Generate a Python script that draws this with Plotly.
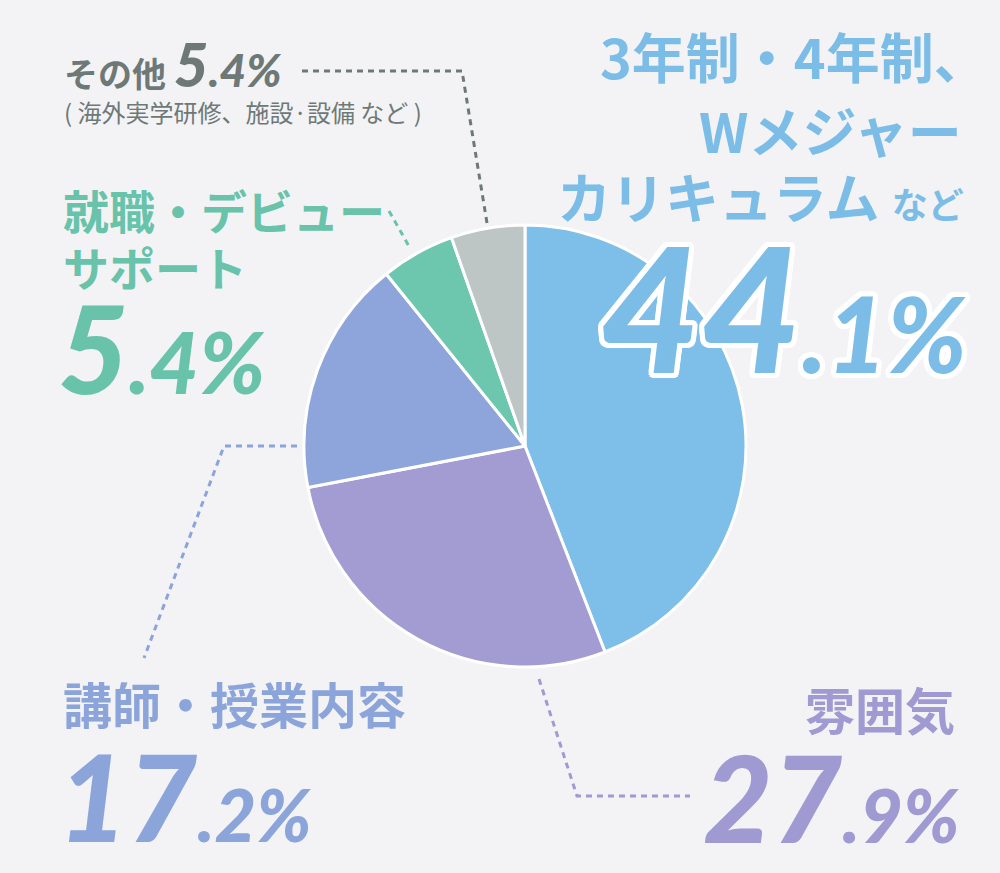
import plotly.graph_objects as go

# ---- data ----
categories = ["3年制・4年制、Wメジャーカリキュラムなど", "雰囲気", "講師・授業内容", "就職・デビューサポート", "その他"]
values = [44.1, 27.9, 17.2, 5.4, 5.4]
slice_colors = ["#7EBFE9", "#A29CD3", "#8EA5DB", "#6DC7AF", "#BEC5C5"]
text_colors = ["#7CBDE8", "#A09AD2", "#8BA4DA", "#68C3AA", "#6E7977"]

W, H = 1000, 873
BG = "#F3F3F5"
JP = "Noto Sans CJK JP"
NUM = "Lato"


def px(x, y):
    return x / W, 1 - y / H


def pct_parts(v):
    s = f"{v:.1f}"
    whole, dec = s.split(".")
    return whole, "." + dec + "%"


fig = go.Figure()

cx, cy, r = 525, 446, 221
x0, y0 = px(cx - r, cy + r)
x1, y1 = px(cx + r, cy - r)
fig.add_trace(go.Pie(
    labels=categories, values=values, sort=False, direction="clockwise", rotation=0,
    marker=dict(colors=slice_colors, line=dict(color="white", width=3)),
    textinfo="none", hoverinfo="label+percent", domain=dict(x=[x0, x1], y=[y0, y1]),
    showlegend=False,
))

annotations = []
shapes = []


def ann(text, x, y, size, color, xanchor="left", yanchor="middle", family=JP, weight=700,
        style="normal", shadow="none"):
    ax, ay = px(x, y)
    annotations.append(dict(
        text=text, x=ax, y=ay, xref="paper", yref="paper", xanchor=xanchor, yanchor=yanchor,
        showarrow=False, align=xanchor if xanchor != "center" else "center",
        font=dict(size=size, color=color, family=family, weight=weight, style=style, shadow=shadow),
    ))


def num(v, x, y, big, small, color, xanchor="left", shadow="none"):
    whole, rest = pct_parts(v)
    txt = f"{whole}<span style='font-size:{small}px'>{rest}</span>"
    ann(txt, x, y, big, color, xanchor=xanchor, yanchor="middle", family=NUM, weight=900,
        style="italic", shadow=shadow)


def leader(points, color):
    path = ""
    for i, (x, y) in enumerate(points):
        ax, ay = px(x, y)
        path += ("M" if i == 0 else "L") + f"{ax},{ay} "
    shapes.append(dict(type="path", path=path.strip(), xref="paper", yref="paper",
                       line=dict(color=color, width=3, dash="6px,5px")))


# ---- その他 ----
c = text_colors[4]
w, rest = pct_parts(values[4])
ann(f"その他 <span style='font-family:{NUM};font-weight:900;font-style:italic;font-size:60px'>{w}</span>"
    f"<span style='font-family:{NUM};font-weight:900;font-style:italic;font-size:46px'>{rest}</span>",
    62, 64, 34, c)
ann("( 海外実学研修、施設·設備 など )", 62, 111, 24, c, weight=400)
leader([(302, 71), (462, 71), (487, 223)], c)

# ---- 3年制 ----
c = text_colors[0]
ann("3年制・4年制、", 990, 55, 54, c, xanchor="right")
ann("Wメジャー", 964, 129, 54, c, xanchor="right")
ann("カリキュラム <span style='font-size:36px'>など</span>", 966, 196, 54, c, xanchor="right")
outline = ", ".join(f"white {dx}px {dy}px 0px" for dx, dy in
                    [(5, 0), (-5, 0), (0, 5), (0, -5), (4, 4), (-4, 4), (4, -4), (-4, -4),
                     (2, 5), (-2, 5), (2, -5), (-2, -5), (5, 2), (-5, 2), (5, -2), (-5, -2)])
num(values[0], 598, 305, 174, 104, c, shadow=outline)

# ---- 就職 ----
c = text_colors[3]
ann("就職・デビュー", 61, 209, 46, c)
ann("サポート", 61, 266, 46, c)
num(values[3], 56, 347, 122, 86, c)
leader([(389, 211), (410, 248)], c)

# ---- 講師 ----
c = text_colors[2]
ann("講師・授業内容", 61, 702, 49, c)
num(values[2], 56, 796, 120, 72, c)
leader([(297, 446), (224, 446), (144, 658)], c)

# ---- 雰囲気 ----
c = text_colors[1]
ann("雰囲気", 957, 708, 50, c, xanchor="right")
num(values[1], 962, 797, 120, 74, c, xanchor="right")
leader([(539, 679), (577, 796), (690, 796)], c)

fig.update_layout(
    width=W, height=H, margin=dict(l=0, r=0, t=0, b=0),
    paper_bgcolor=BG, plot_bgcolor=BG, showlegend=False,
    annotations=annotations, shapes=shapes,
    xaxis=dict(visible=False), yaxis=dict(visible=False),
)

fig.write_html("out.html", config={"displayModeBar": False},
               post_script="document.body.style.margin='0';document.body.style.padding='0';document.body.style.overflow='hidden';document.body.style.background='%s';" % BG)
